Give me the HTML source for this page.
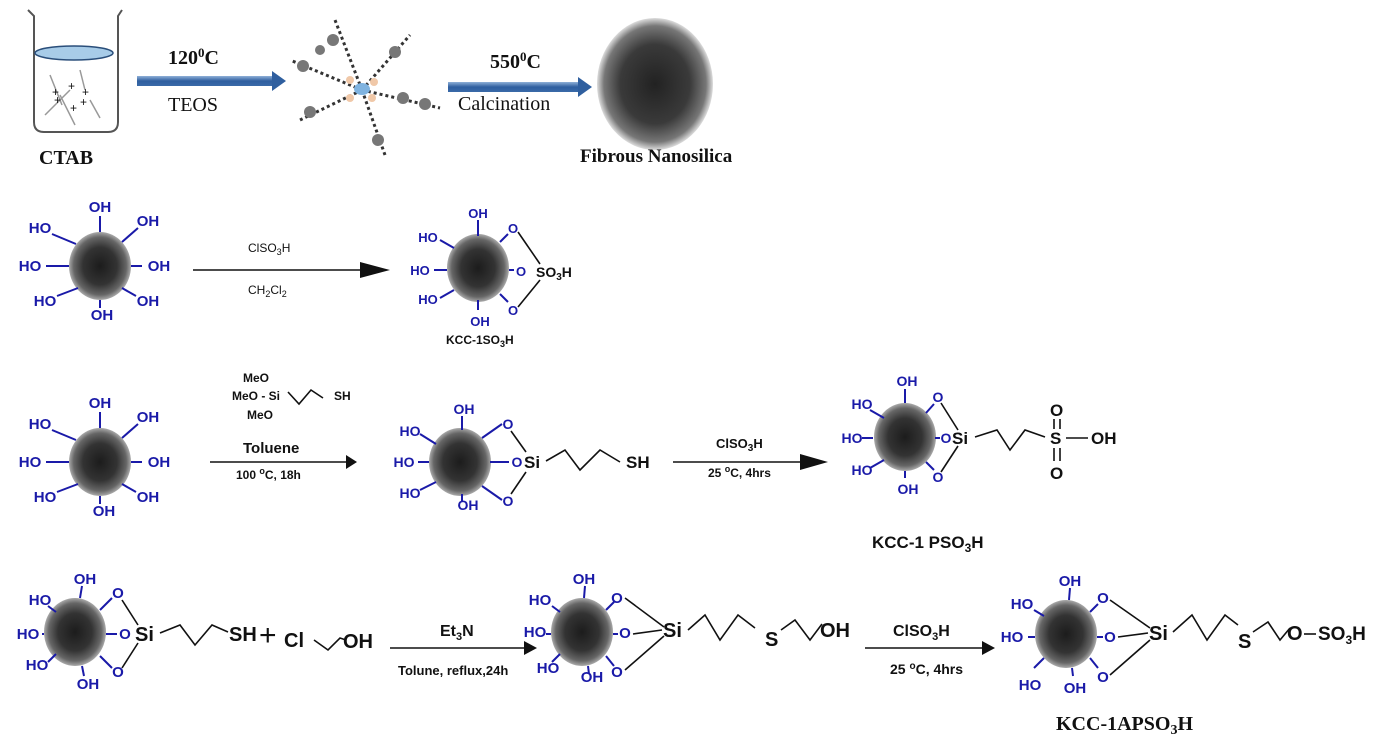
<!DOCTYPE html>
<html><head><meta charset="utf-8"><style>
html,body{margin:0;padding:0;background:#fff}
svg{display:block}
.b{fill:#1a1aa8;font-family:"Liberation Sans",sans-serif;font-weight:bold}
.k{fill:#111;font-family:"Liberation Sans",sans-serif;font-weight:bold}
.s{fill:#111;font-family:"Liberation Sans",sans-serif}
.t{fill:#111;font-family:"Liberation Serif",serif;font-weight:bold}
.tn{fill:#111;font-family:"Liberation Serif",serif}
.bl line{stroke:#1a1aa8;stroke-width:2}
.bk{stroke:#111;stroke-width:1.6;fill:none}
</style></head><body>
<svg width="1399" height="739" viewBox="0 0 1399 739" xmlns="http://www.w3.org/2000/svg" font-size="15">
<defs>
<radialGradient id="rg"><stop offset="0" stop-color="#1c1c1c"/><stop offset="0.55" stop-color="#333"/><stop offset="0.85" stop-color="#666"/><stop offset="1" stop-color="#aaa"/></radialGradient>
<radialGradient id="rg2"><stop offset="0" stop-color="#222"/><stop offset="0.6" stop-color="#3a3a3a"/><stop offset="0.88" stop-color="#777"/><stop offset="1" stop-color="#ddd"/></radialGradient>
<linearGradient id="ar" x1="0" y1="0" x2="0" y2="1"><stop offset="0" stop-color="#8fb0d8"/><stop offset="0.5" stop-color="#2f5f9f"/><stop offset="1" stop-color="#3a6aa8"/></linearGradient>
<g id="sp"><ellipse rx="31" ry="34" fill="url(#rg)"/></g>
</defs>

<!-- Row 1 -->
<path d="M28 10 L34 16 L34 122 Q34 132 44 132 L108 132 Q118 132 118 122 L118 16 L122 10" fill="none" stroke="#555" stroke-width="2"/>
<ellipse cx="74" cy="53" rx="39" ry="7" fill="#a8cce8" stroke="#2a4e7a" stroke-width="1.5"/>
<g stroke="#999" stroke-width="1.5">
<line x1="50" y1="75" x2="62" y2="105"/><line x1="80" y1="70" x2="85" y2="90"/><line x1="70" y1="90" x2="45" y2="115"/><line x1="90" y1="100" x2="100" y2="118"/><line x1="60" y1="95" x2="75" y2="125"/></g>
<g class="s" style="font-size:12px"><text x="68" y="90">+</text><text x="82" y="96">+</text><text x="54" y="104">+</text><text x="70" y="112">+</text><text x="52" y="96">+</text><text x="80" y="106">+</text></g>
<rect x="137" y="76" width="135" height="10" fill="url(#ar)"/><polygon points="272,71 286,81 272,91" fill="#2f5f9f"/>
<text class="t" x="168" y="64" style="font-size:20px">120<tspan dy="-7" font-size="13">0</tspan><tspan dy="7">C</tspan></text>
<text class="tn" x="168" y="111" style="font-size:20px">TEOS</text>
<g stroke="#333" stroke-width="3" stroke-dasharray="3,3">
<line x1="362" y1="90" x2="335" y2="20"/><line x1="362" y1="90" x2="410" y2="35"/><line x1="362" y1="90" x2="290" y2="60"/><line x1="362" y1="90" x2="440" y2="108"/><line x1="362" y1="90" x2="300" y2="120"/><line x1="362" y1="90" x2="385" y2="155"/></g>
<g fill="#777"><circle cx="333" cy="40" r="6"/><circle cx="395" cy="52" r="6"/><circle cx="303" cy="66" r="6"/><circle cx="425" cy="104" r="6"/><circle cx="310" cy="112" r="6"/><circle cx="378" cy="140" r="6"/><circle cx="403" cy="98" r="6"/><circle cx="320" cy="50" r="5"/></g>
<ellipse cx="362" cy="89" rx="8" ry="6" fill="#7fb3e0"/>
<g fill="#f0c8a8"><circle cx="350" cy="80" r="4"/><circle cx="374" cy="82" r="4"/><circle cx="350" cy="98" r="4"/><circle cx="372" cy="98" r="4"/></g>
<rect x="448" y="82" width="130" height="10" fill="url(#ar)"/><polygon points="578,77 592,87 578,97" fill="#2f5f9f"/>
<text class="t" x="490" y="68" style="font-size:20px">550<tspan dy="-7" font-size="13">0</tspan><tspan dy="7">C</tspan></text>
<text class="tn" x="458" y="110" style="font-size:20px">Calcination</text>
<ellipse cx="655" cy="84" rx="58" ry="66" fill="url(#rg2)"/>
<text class="t" x="39" y="164" style="font-size:20px">CTAB</text>
<text class="t" x="580" y="162" style="font-size:19px">Fibrous Nanosilica</text>

<!-- Row 2 -->
<use href="#sp" x="100" y="266"/>
<g class="bl"><line x1="100" y1="216" x2="100" y2="232"/><line x1="138" y1="228" x2="122" y2="242"/><line x1="52" y1="234" x2="76" y2="244"/><line x1="46" y1="266" x2="69" y2="266"/><line x1="131" y1="266" x2="142" y2="266"/><line x1="57" y1="296" x2="78" y2="288"/><line x1="136" y1="296" x2="122" y2="288"/><line x1="100" y1="300" x2="100" y2="308"/></g>
<g class="b" text-anchor="middle"><text x="100" y="212">OH</text><text x="148" y="226">OH</text><text x="40" y="233">HO</text><text x="30" y="271">HO</text><text x="159" y="271">OH</text><text x="45" y="306">HO</text><text x="148" y="306">OH</text><text x="102" y="320">OH</text></g>
<line x1="193" y1="270" x2="370" y2="270" class="bk"/><polygon points="360,262 390,270 360,278" fill="#111"/>
<text class="s" x="248" y="252" style="font-size:12px">ClSO<tspan dy="3" font-size="9">3</tspan><tspan dy="-3">H</tspan></text>
<text class="s" x="248" y="294" style="font-size:12px">CH<tspan dy="3" font-size="9">2</tspan><tspan dy="-3">Cl</tspan><tspan dy="3" font-size="9">2</tspan></text>
<use href="#sp" x="478" y="268"/>
<g class="bl"><line x1="478" y1="220" x2="478" y2="236"/><line x1="440" y1="240" x2="454" y2="248"/><line x1="434" y1="270" x2="447" y2="270"/><line x1="440" y1="298" x2="454" y2="290"/><line x1="478" y1="300" x2="478" y2="310"/><line x1="500" y1="242" x2="508" y2="234"/><line x1="509" y1="270" x2="514" y2="270"/><line x1="500" y1="294" x2="508" y2="302"/></g>
<g class="b" text-anchor="middle" style="font-size:13px"><text x="478" y="218">OH</text><text x="428" y="242">HO</text><text x="420" y="275">HO</text><text x="428" y="304">HO</text><text x="480" y="326">OH</text><text x="513" y="233">O</text><text x="521" y="276">O</text><text x="513" y="315">O</text></g>
<line x1="518" y1="232" x2="540" y2="264" class="bk"/><line x1="518" y1="307" x2="540" y2="280" class="bk"/>
<text class="k" x="536" y="277" style="font-size:14px">SO<tspan dy="3" font-size="10">3</tspan><tspan dy="-3">H</tspan></text>
<text class="k" x="446" y="344" style="font-size:12px">KCC-1SO<tspan dy="3" font-size="9">3</tspan><tspan dy="-3">H</tspan></text>

<!-- Row 3 -->
<use href="#sp" x="100" y="462"/>
<g class="bl"><line x1="100" y1="412" x2="100" y2="428"/><line x1="138" y1="424" x2="122" y2="438"/><line x1="52" y1="430" x2="76" y2="440"/><line x1="46" y1="462" x2="69" y2="462"/><line x1="131" y1="462" x2="142" y2="462"/><line x1="57" y1="492" x2="78" y2="484"/><line x1="136" y1="492" x2="122" y2="484"/><line x1="100" y1="496" x2="100" y2="504"/></g>
<g class="b" text-anchor="middle"><text x="100" y="408">OH</text><text x="148" y="422">OH</text><text x="40" y="429">HO</text><text x="30" y="467">HO</text><text x="159" y="467">OH</text><text x="45" y="502">HO</text><text x="148" y="502">OH</text><text x="104" y="516">OH</text></g>
<g class="k" style="font-size:12px"><text x="243" y="382">MeO</text><text x="232" y="400">MeO - Si</text><text x="247" y="419">MeO</text><text x="334" y="400">SH</text></g>
<polyline points="288,392 299,404 311,390 323,398" class="bk" stroke-width="1"/>
<text class="k" x="243" y="453" style="font-size:15px">Toluene</text>
<text class="k" x="236" y="479" style="font-size:12px">100 <tspan dy="-5" font-size="9">o</tspan><tspan dy="5">C, 18h</tspan></text>
<line x1="210" y1="462" x2="348" y2="462" class="bk"/><polygon points="346,455 357,462 346,469" fill="#111"/>
<use href="#sp" x="460" y="462"/>
<g class="bl"><line x1="462" y1="416" x2="462" y2="430"/><line x1="420" y1="434" x2="436" y2="444"/><line x1="418" y1="462" x2="429" y2="462"/><line x1="420" y1="490" x2="436" y2="482"/><line x1="462" y1="494" x2="462" y2="502"/><line x1="482" y1="438" x2="502" y2="424"/><line x1="490" y1="462" x2="509" y2="462"/><line x1="482" y1="486" x2="502" y2="500"/></g>
<g class="b" text-anchor="middle" style="font-size:14px"><text x="464" y="414">OH</text><text x="410" y="436">HO</text><text x="404" y="467">HO</text><text x="410" y="498">HO</text><text x="468" y="510">OH</text><text x="508" y="429">O</text><text x="517" y="467">O</text><text x="508" y="506">O</text></g>
<line x1="511" y1="431" x2="526" y2="452" class="bk"/><line x1="511" y1="494" x2="526" y2="472" class="bk"/>
<text class="k" x="524" y="468" style="font-size:17px">Si</text>
<polyline points="546,461 565,450 580,470 600,450 620,462" class="bk"/>
<text class="k" x="626" y="468" style="font-size:17px">SH</text>
<line x1="673" y1="462" x2="808" y2="462" class="bk"/><polygon points="800,454 828,462 800,470" fill="#111"/>
<text class="k" x="716" y="448" style="font-size:13px">ClSO<tspan dy="3" font-size="10">3</tspan><tspan dy="-3">H</tspan></text>
<text class="k" x="708" y="477" style="font-size:12px">25 <tspan dy="-5" font-size="9">o</tspan><tspan dy="5">C, 4hrs</tspan></text>
<use href="#sp" x="905" y="437"/>
<g class="bl"><line x1="905" y1="389" x2="905" y2="403"/><line x1="870" y1="410" x2="884" y2="418"/><line x1="862" y1="438" x2="873" y2="438"/><line x1="870" y1="468" x2="884" y2="460"/><line x1="905" y1="471" x2="905" y2="478"/><line x1="926" y1="413" x2="934" y2="404"/><line x1="935" y1="438" x2="940" y2="438"/><line x1="926" y1="462" x2="934" y2="470"/></g>
<g class="b" text-anchor="middle" style="font-size:14px"><text x="907" y="386">OH</text><text x="862" y="409">HO</text><text x="852" y="443">HO</text><text x="862" y="475">HO</text><text x="908" y="494">OH</text><text x="938" y="402">O</text><text x="946" y="443">O</text><text x="938" y="482">O</text></g>
<line x1="941" y1="403" x2="958" y2="430" class="bk"/><line x1="941" y1="472" x2="958" y2="446" class="bk"/>
<text class="k" x="952" y="444" style="font-size:17px">Si</text>
<polyline points="975,437 997,430 1010,450 1025,430 1045,437" class="bk"/>
<text class="k" x="1050" y="444" style="font-size:17px">S</text>
<text class="k" x="1050" y="416" style="font-size:17px">O</text><text class="k" x="1050" y="479" style="font-size:17px">O</text>
<g class="bk"><line x1="1054" y1="419" x2="1054" y2="429"/><line x1="1060" y1="419" x2="1060" y2="429"/><line x1="1054" y1="448" x2="1054" y2="461"/><line x1="1060" y1="448" x2="1060" y2="461"/><line x1="1066" y1="438" x2="1088" y2="438"/></g>
<text class="k" x="1091" y="444" style="font-size:17px">OH</text>
<text class="k" x="872" y="548" style="font-size:17px">KCC-1 PSO<tspan dy="4" font-size="12">3</tspan><tspan dy="-4">H</tspan></text>

<!-- Row 4 -->
<use href="#sp" x="75" y="632"/>
<g class="bl"><line x1="82" y1="586" x2="80" y2="598"/><line x1="48" y1="606" x2="56" y2="612"/><line x1="42" y1="634" x2="44" y2="634"/><line x1="48" y1="662" x2="56" y2="654"/><line x1="82" y1="666" x2="84" y2="676"/><line x1="100" y1="610" x2="112" y2="598"/><line x1="106" y1="634" x2="117" y2="634"/><line x1="100" y1="656" x2="112" y2="668"/></g>
<g class="b" text-anchor="middle"><text x="85" y="584">OH</text><text x="40" y="605">HO</text><text x="28" y="639">HO</text><text x="37" y="670">HO</text><text x="88" y="689">OH</text><text x="118" y="598">O</text><text x="125" y="639">O</text><text x="118" y="677">O</text></g>
<line x1="122" y1="600" x2="138" y2="625" class="bk"/><line x1="122" y1="668" x2="138" y2="643" class="bk"/>
<text class="k" x="135" y="641" style="font-size:20px">Si</text>
<polyline points="160,633 180,625 195,645 212,625 228,632" class="bk"/>
<text class="k" x="229" y="641" style="font-size:20px">SH</text>
<text class="s" x="259" y="645" style="font-size:30px">+</text>
<text class="k" x="284" y="647" style="font-size:20px">Cl</text>
<polyline points="314,640 328,650 340,638 346,640" class="bk"/>
<text class="k" x="343" y="648" style="font-size:20px">OH</text>
<line x1="390" y1="648" x2="527" y2="648" class="bk"/><polygon points="524,641 537,648 524,655" fill="#111"/>
<text class="k" x="440" y="636" style="font-size:16px">Et<tspan dy="4" font-size="11">3</tspan><tspan dy="-4">N</tspan></text>
<text class="k" x="398" y="675" style="font-size:13px">Tolune, reflux,24h</text>
<use href="#sp" x="582" y="632"/>
<g class="bl"><line x1="585" y1="586" x2="584" y2="598"/><line x1="552" y1="606" x2="560" y2="612"/><line x1="546" y1="634" x2="551" y2="634"/><line x1="552" y1="662" x2="560" y2="654"/><line x1="588" y1="666" x2="589" y2="674"/><line x1="606" y1="610" x2="614" y2="602"/><line x1="613" y1="634" x2="618" y2="634"/><line x1="606" y1="656" x2="614" y2="666"/></g>
<g class="b" text-anchor="middle"><text x="584" y="584">OH</text><text x="540" y="605">HO</text><text x="535" y="637">HO</text><text x="548" y="673">HO</text><text x="592" y="682">OH</text><text x="617" y="603">O</text><text x="625" y="638">O</text><text x="617" y="677">O</text></g>
<line x1="625" y1="598" x2="664" y2="627" class="bk"/><line x1="633" y1="634" x2="662" y2="630" class="bk"/><line x1="625" y1="670" x2="664" y2="636" class="bk"/>
<text class="k" x="663" y="637" style="font-size:20px">Si</text>
<polyline points="688,630 705,615 720,640 738,615 755,628" class="bk"/>
<text class="k" x="765" y="646" style="font-size:20px">S</text>
<polyline points="781,630 795,620 810,640 822,624" class="bk"/>
<text class="k" x="820" y="637" style="font-size:20px">OH</text>
<line x1="865" y1="648" x2="985" y2="648" class="bk"/><polygon points="982,641 995,648 982,655" fill="#111"/>
<text class="k" x="893" y="636" style="font-size:16px">ClSO<tspan dy="4" font-size="11">3</tspan><tspan dy="-4">H</tspan></text>
<text class="k" x="890" y="674" style="font-size:14px">25 <tspan dy="-5" font-size="10">o</tspan><tspan dy="5">C, 4hrs</tspan></text>
<use href="#sp" x="1066" y="634"/>
<g class="bl"><line x1="1070" y1="588" x2="1069" y2="600"/><line x1="1034" y1="610" x2="1044" y2="616"/><line x1="1028" y1="637" x2="1035" y2="637"/><line x1="1034" y1="668" x2="1044" y2="658"/><line x1="1072" y1="668" x2="1073" y2="676"/><line x1="1090" y1="612" x2="1098" y2="604"/><line x1="1097" y1="637" x2="1103" y2="637"/><line x1="1090" y1="658" x2="1098" y2="668"/></g>
<g class="b" text-anchor="middle"><text x="1070" y="586">OH</text><text x="1022" y="609">HO</text><text x="1012" y="642">HO</text><text x="1030" y="690">HO</text><text x="1075" y="693">OH</text><text x="1103" y="603">O</text><text x="1110" y="642">O</text><text x="1103" y="682">O</text></g>
<line x1="1110" y1="600" x2="1150" y2="628" class="bk"/><line x1="1118" y1="637" x2="1148" y2="633" class="bk"/><line x1="1110" y1="675" x2="1150" y2="640" class="bk"/>
<text class="k" x="1149" y="640" style="font-size:20px">Si</text>
<polyline points="1173,632 1192,615 1207,640 1225,615 1238,625" class="bk"/>
<text class="k" x="1238" y="648" style="font-size:20px">S</text>
<polyline points="1253,632 1268,622 1280,640 1290,628" class="bk"/>
<text class="k" x="1287" y="640" style="font-size:20px">O</text>
<line x1="1304" y1="634" x2="1316" y2="634" class="bk"/>
<text class="k" x="1318" y="640" style="font-size:19px">SO<tspan dy="4" font-size="12">3</tspan><tspan dy="-4">H</tspan></text>
<text class="t" x="1056" y="730" style="font-size:20px">KCC-1APSO<tspan dy="4" font-size="14">3</tspan><tspan dy="-4">H</tspan></text>
</svg>
</body></html>
